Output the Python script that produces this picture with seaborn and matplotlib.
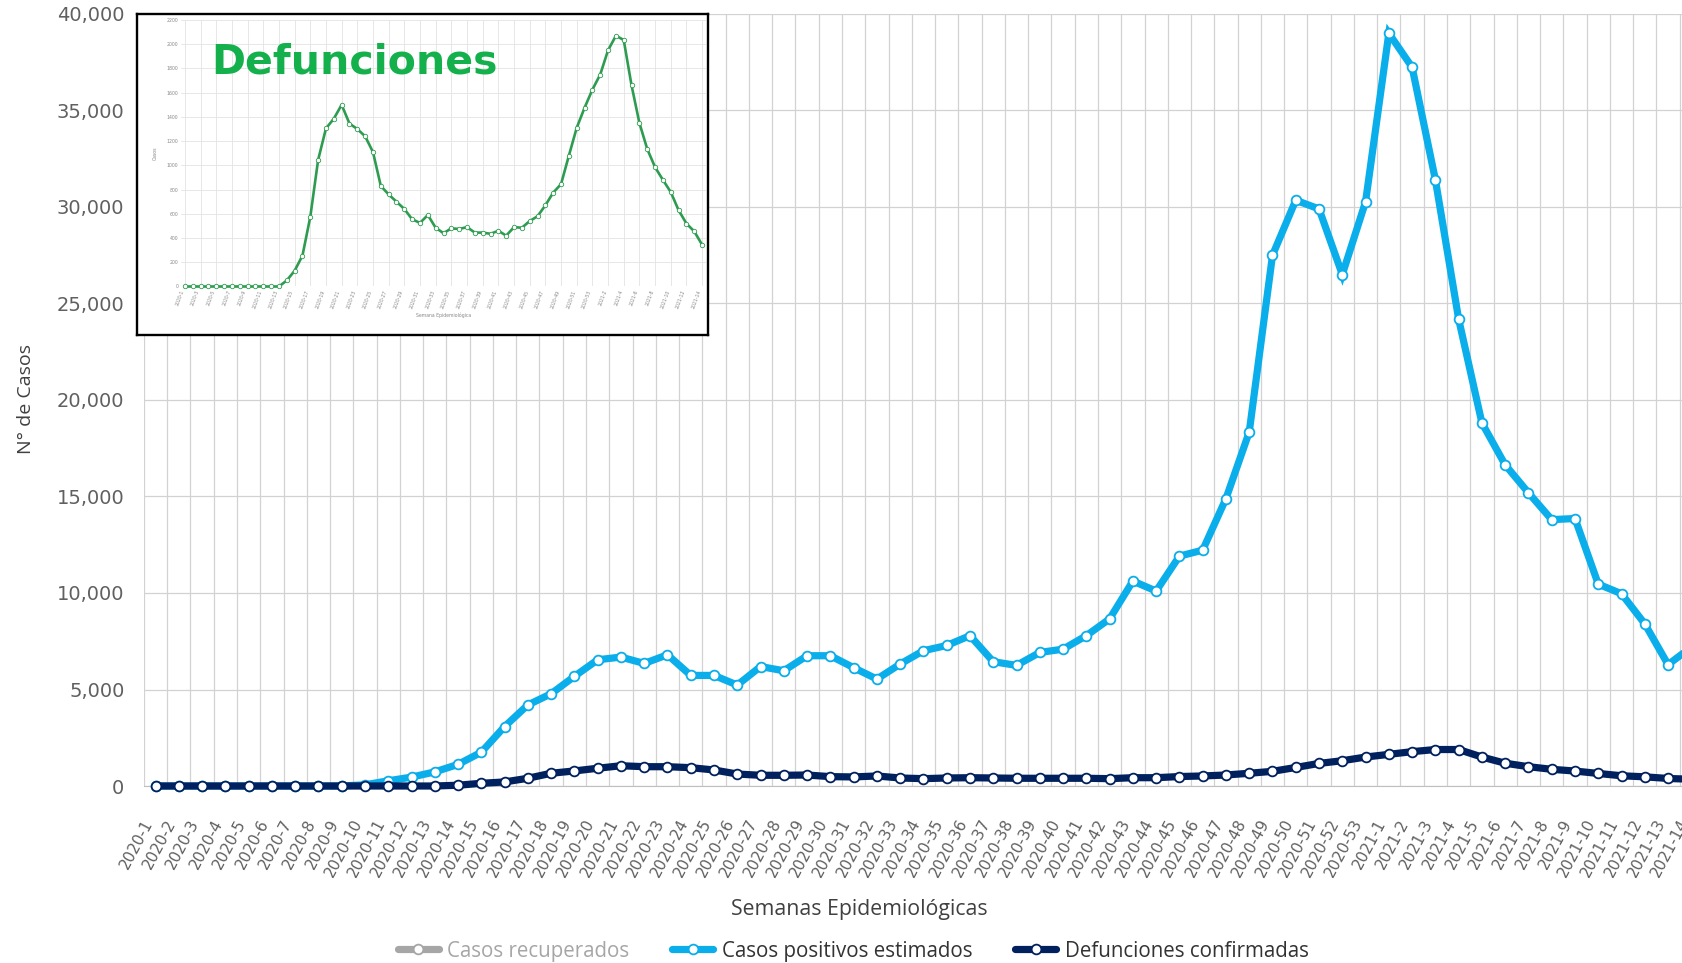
import numpy as np
import matplotlib
matplotlib.use("Agg")
import matplotlib.pyplot as plt
from matplotlib.lines import Line2D
from matplotlib.ticker import FuncFormatter
import seaborn as sns

# semanas epidemiologicas 2020-1 .. 2021-14
semanas = [f"2020-{i}" for i in range(1, 54)] + [f"2021-{i}" for i in range(1, 15)]

positivos = [0, 0, 0, 0, 0, 0, 0, 0, 0, 60,
             270, 460, 730, 1120, 1750, 3080, 4200, 4780, 5680, 6540,
             6680, 6350, 6800, 5730, 5730, 5230, 6190, 5970, 6750, 6750,
             6130, 5540, 6320, 7010, 7280, 7790, 6440, 6250, 6920, 7090,
             7790, 8660, 10620, 10100, 11910, 12220, 14890, 18340, 27500, 30350,
             29900, 26500, 30270, 39000, 37240, 31410, 24190, 18810, 16640, 15190,
             13800, 13860, 10460, 9960, 8400, 6290, 7200]

defunciones = [0, 0, 0, 0, 0, 0, 0, 0, 0, 0,
               0, 0, 0, 40, 140, 210, 400, 660, 780, 920,
               1050, 1000, 1000, 950, 830, 620, 555, 555, 570, 485,
               470, 520, 415, 380, 415, 430, 415, 400, 400, 400,
               400, 380, 430, 430, 490, 520, 570, 660, 760, 960,
               1170, 1310, 1500, 1640, 1780, 1890, 1890, 1500, 1180, 1000,
               865, 775, 650, 530, 475, 390, 350]

# grafico pequeno "Defunciones" (recuadro)
defunciones_inset = [0, 0, 0, 0, 0, 0, 0, 0, 0, 0,
                     0, 0, 0, 50, 130, 255, 575, 1045, 1305, 1385,
                     1500, 1345, 1300, 1240, 1110, 830, 760, 700, 640, 555,
                     525, 590, 485, 440, 480, 475, 490, 445, 445, 435,
                     460, 420, 490, 485, 540, 580, 670, 775, 845, 1080,
                     1310, 1475, 1625, 1750, 1950, 2070, 2035, 1660, 1350, 1135,
                     985, 880, 780, 630, 520, 455, 345]

series_leyenda = ["Casos recuperados", "Casos positivos estimados", "Defunciones confirmadas"]

AZUL = "#0aaeea"
NAVY = "#00215e"
GRIS = "#a6a6a6"
VERDE = "#2e9c50"
GRID = "#d2d2d2"
TXT = "#606060"

sns.set_style("white")
plt.rcParams["font.family"] = ["DejaVu Sans"]

W, H = 1683, 963
pos = np.arange(len(semanas))

fig = plt.figure(figsize=(W / 100, H / 100), dpi=100)

# ---- grafico principal ----
x0, y0, y1 = 143.9, 786, 14
ax = fig.add_axes([x0 / W, 1 - y0 / H, 1 - x0 / W, (y0 - y1) / H])

sns.lineplot(x=pos, y=positivos, ax=ax, color=AZUL, linewidth=5.2,
             marker="o", markersize=7, mfc="white", mec=AZUL, mew=1.3,
             clip_on=False, solid_joinstyle="miter", zorder=3)
sns.lineplot(x=pos, y=defunciones, ax=ax, color=NAVY, linewidth=5.2,
             marker="o", markersize=7, mfc="white", mec=NAVY, mew=1.3,
             clip_on=False, solid_joinstyle="miter", zorder=4)

ax.set_xticks(pos)
ax.set_xticklabels(semanas, rotation=62, ha="right", fontsize=11, color=TXT)
ax.set_xticks(np.arange(-0.5, len(semanas), 1), minor=True)
ax.set_yticks(range(0, 40001, 5000))
ax.yaxis.set_major_formatter(FuncFormatter(lambda v, p: f"{int(v):,}"))
ax.tick_params(axis="x", which="both", length=0, pad=22)
ax.tick_params(axis="y", length=0, pad=14, labelsize=14, labelcolor=TXT)
ax.set_xlim(-0.5, (W - x0) / 23.27 - 0.5)
ax.set_ylim(0, 40000)

# la ultima etiqueta queda fuera del area visible (cortada por el borde)
ax.annotate(semanas[-1], xy=(pos[-1], 0), xycoords=("data", "axes fraction"),
            xytext=(0, -22), textcoords="offset points", rotation=62,
            ha="right", va="top", fontsize=11, color=TXT, annotation_clip=False)

ax.grid(False)
ax.grid(True, which="minor", axis="x", color=GRID, linewidth=0.9)
ax.grid(True, which="major", axis="y", color=GRID, linewidth=0.9)
ax.set_axisbelow(True)
for s in ["top", "right", "left"]:
    ax.spines[s].set_visible(False)
ax.spines["bottom"].set_color("#bfbfbf")
ax.set_xlabel("")
ax.set_ylabel("")

fig.text(26 / W, 1 - 399 / H, "N° de Casos", rotation=90, ha="center", va="center",
         fontsize=14, color="#404040", family=["Open Sans", "DejaVu Sans"])
fig.text(859 / W, 1 - 909 / H, "Semanas Epidemiológicas", ha="center", va="center",
         fontsize=15.3, color="#404040", family=["Open Sans", "DejaVu Sans"])

handles = [
    Line2D([0], [0], color=c, linewidth=5.2, marker="o", markersize=7,
           mfc="white", mec=c, mew=1.3)
    for c in [GRIS, AZUL, NAVY]
]
leg = fig.legend(handles, series_leyenda, loc="center", ncol=3, frameon=False,
                 bbox_to_anchor=(853 / W, 1 - 951 / H), handlelength=2.0,
                 handletextpad=0.4, columnspacing=2.1,
                 prop={"family": "Open Sans", "size": 14.8})
for t, c in zip(leg.get_texts(), [GRIS, "#333333", "#333333"]):
    t.set_color(c)

# ---- recuadro Defunciones ----
bx0, bx1, by0, by1 = 137.5, 708, 14, 335
box = fig.add_axes([bx0 / W, 1 - by1 / H, (bx1 - bx0) / W, (by1 - by0) / H])
box.set_facecolor("white")
box.set_xticks([])
box.set_yticks([])
for s in box.spines.values():
    s.set_color("black")
    s.set_linewidth(1.7)

ix0, ix1, iy0, iy1 = 181, 706, 286.5, 20
ins = fig.add_axes([ix0 / W, 1 - iy0 / H, (ix1 - ix0) / W, (iy0 - iy1) / H])
ins.set_facecolor("white")
sns.lineplot(x=pos, y=defunciones_inset, ax=ins, color=VERDE, linewidth=1.9,
             marker="o", markersize=3.2, mfc="white", mec=VERDE, mew=0.6,
             clip_on=False, zorder=3)
ins.set_xticks(pos[::2])
ins.set_xticklabels(semanas[::2], rotation=70, ha="right", fontsize=3.3, color="#888888")
ins.set_yticks(range(0, 2201, 200))
ins.tick_params(axis="both", length=0, pad=2, labelsize=3.3, labelcolor="#888888")
ins.set_xlim(-0.5, 66.5)
ins.set_ylim(0, 2200)
ins.grid(True, color="#e3e3e3", linewidth=0.6)
ins.set_axisbelow(True)
for s in ins.spines.values():
    s.set_visible(False)
ins.set_xlabel("Semana Epidemiológica", fontsize=3.3, color="#888888", labelpad=2)
ins.set_ylabel("Casos", fontsize=3.3, color="#888888", labelpad=6)

fig.text(211 / W, 1 - 73 / H, "Defunciones", ha="left", va="baseline",
         fontsize=29.5, fontweight="heavy", color="#13b04c", zorder=10)

fig.savefig("out.png", dpi=100)
